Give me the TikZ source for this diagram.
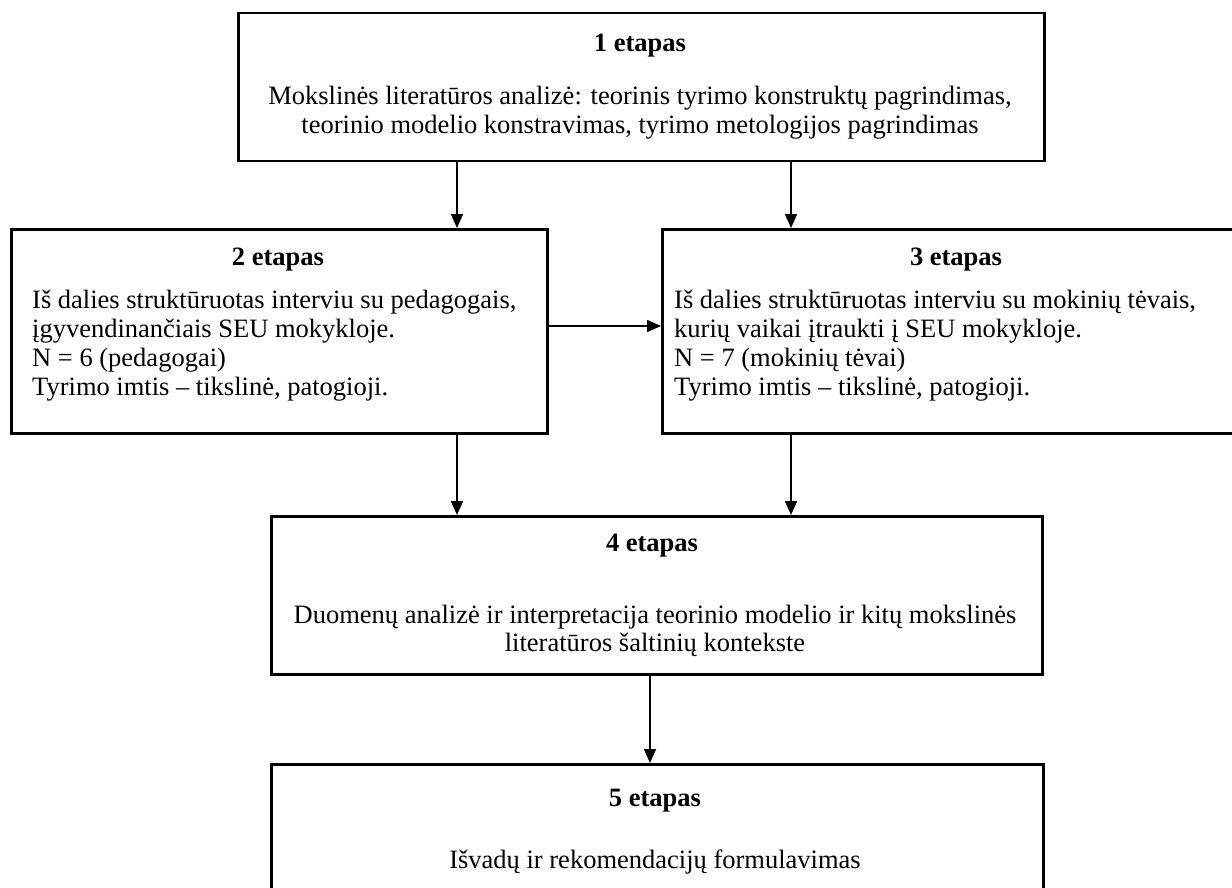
\documentclass[tikz,border=0pt]{standalone}
\usepackage{fontspec}
\setmainfont{Liberation Serif}
\usetikzlibrary{arrows.meta}
\tikzset{
  box/.style={draw, line width=2.5pt, inner sep=0pt, anchor=north west},
  conn/.style={line width=1.6pt, -{Triangle[length=14pt,width=12pt]}},
  ttl/.style={font=\fontsize{26.5}{30}\selectfont\bfseries, inner sep=0pt, anchor=base},
  txt/.style={font=\fontsize{26.5}{30}\selectfont, inner sep=0pt, anchor=base west},
  ctxt/.style={font=\fontsize{26.5}{30}\selectfont, inner sep=0pt, anchor=base},
}
\begin{document}
\begin{tikzpicture}[x=1pt,y=-1pt]
\useasboundingbox (0,0) rectangle (1232,888);
\fill[white] (0,0) rectangle (1232,888);
\clip (0,0) rectangle (1232,888);

% boxes
\node[box, minimum width=806pt, minimum height=148pt] (b1) at (237,12) {};
\node[box, minimum width=536pt, minimum height=204pt] (b2) at (10,228) {};
\node[box, minimum width=600pt, minimum height=204pt] (b3) at (661,228) {};
\node[box, minimum width=771pt, minimum height=158pt] (b4) at (270,515) {};
\node[box, minimum width=772pt, minimum height=160pt] (b5) at (270,763) {};

% box 1 text
\node[ttl] (t1) at (640,52) {1 etapas};
\node[ctxt] (t1a) at (640,105) {Mokslinės literatūros analizė: teorinis tyrimo konstruktų pagrindimas,};
\node[ctxt] (t1b) at (640,134) {teorinio modelio konstravimas, tyrimo metologijos pagrindimas};

% box 2 text
\node[ttl] (t2) at (278,265) {2 etapas};
\node[txt] (t2a) at (32,308) {Iš dalies struktūruotas interviu su pedagogais,};
\node[txt] (t2b) at (32,337) {įgyvendinančiais SEU mokykloje.};
\node[txt] (t2c) at (32,366) {N = 6 (pedagogai)};
\node[txt] (t2d) at (32,395) {Tyrimo imtis – tikslinė, patogioji.};

% box 3 text
\node[ttl] (t3) at (956,265) {3 etapas};
\node[txt] (t3a) at (674,308) {Iš dalies struktūruotas interviu su mokinių tėvais,};
\node[txt] (t3b) at (674,337) {kurių vaikai įtraukti į SEU mokykloje.};
\node[txt] (t3c) at (674,366) {N = 7 (mokinių tėvai)};
\node[txt] (t3d) at (674,395) {Tyrimo imtis – tikslinė, patogioji.};

% box 4 text
\node[ttl] (t4) at (652,551) {4 etapas};
\node[ctxt] (t4a) at (655,623) {Duomenų analizė ir interpretacija teorinio modelio ir kitų mokslinės};
\node[ctxt] (t4b) at (655,651) {literatūros šaltinių kontekste};

% box 5 text
\node[ttl] (t5) at (655,806) {5 etapas};
\node[ctxt] (t5a) at (655,868) {Išvadų ir rekomendacijų formulavimas};

% connectors
\coordinate (xl) at (457,0);
\coordinate (xr) at (791,0);
\coordinate (xm) at (650,0);
\coordinate (yh) at (0,326);
\draw[conn] (b1.south -| xl) -- (b2.north -| xl);
\draw[conn] (b1.south -| xr) -- (b3.north -| xr);
\draw[conn] (b2.east |- yh) -- (b3.west |- yh);
\draw[conn] (b2.south -| xl) -- (b4.north -| xl);
\draw[conn] (b3.south -| xr) -- (b4.north -| xr);
\draw[conn] (b4.south -| xm) -- (b5.north -| xm);
\end{tikzpicture}
\end{document}
